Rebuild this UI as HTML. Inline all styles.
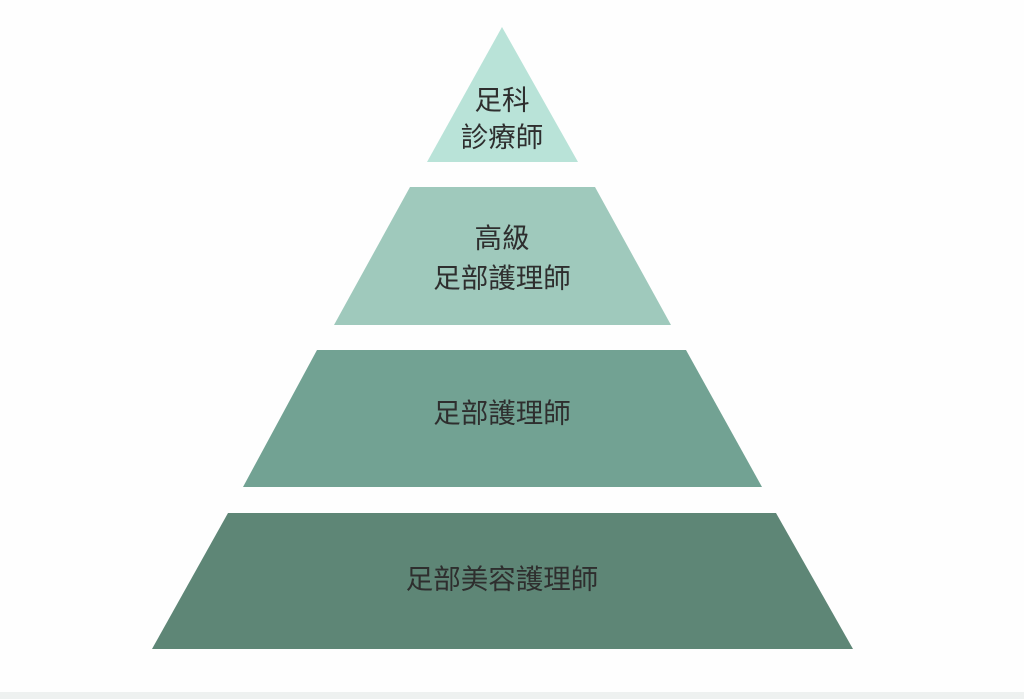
<!DOCTYPE html>
<html><head><meta charset="utf-8"><style>
html,body{margin:0;padding:0;background:#fefefe;}
body{width:1024px;height:699px;position:relative;overflow:hidden;}
svg{position:absolute;left:0;top:0;}
text{font-family:"Liberation Sans","Noto Sans CJK TC",sans-serif;font-size:27.5px;fill:#2e2e2e;text-anchor:middle;dominant-baseline:central;}
</style></head><body>
<svg width="1024" height="699" viewBox="0 0 1024 699">
<rect x="0" y="692" width="1024" height="7" fill="#eef1f0"/>
<polygon points="502,27 578,162 427,162" fill="#b9e3d8"/>
<polygon points="410,187 595,187 671,325 334,325" fill="#9fc9bc"/>
<polygon points="317,350 686,350 762,487 243,487" fill="#72a293"/>
<polygon points="228,513 776,513 853,649 152,649" fill="#5e8676"/>
<text x="502" y="100">足科</text>
<text x="502" y="137">診療師</text>
<text x="502" y="238">高級</text>
<text x="502" y="278">足部護理師</text>
<text x="502" y="413">足部護理師</text>
<text x="502" y="579">足部美容護理師</text>
</svg>
</body></html>
